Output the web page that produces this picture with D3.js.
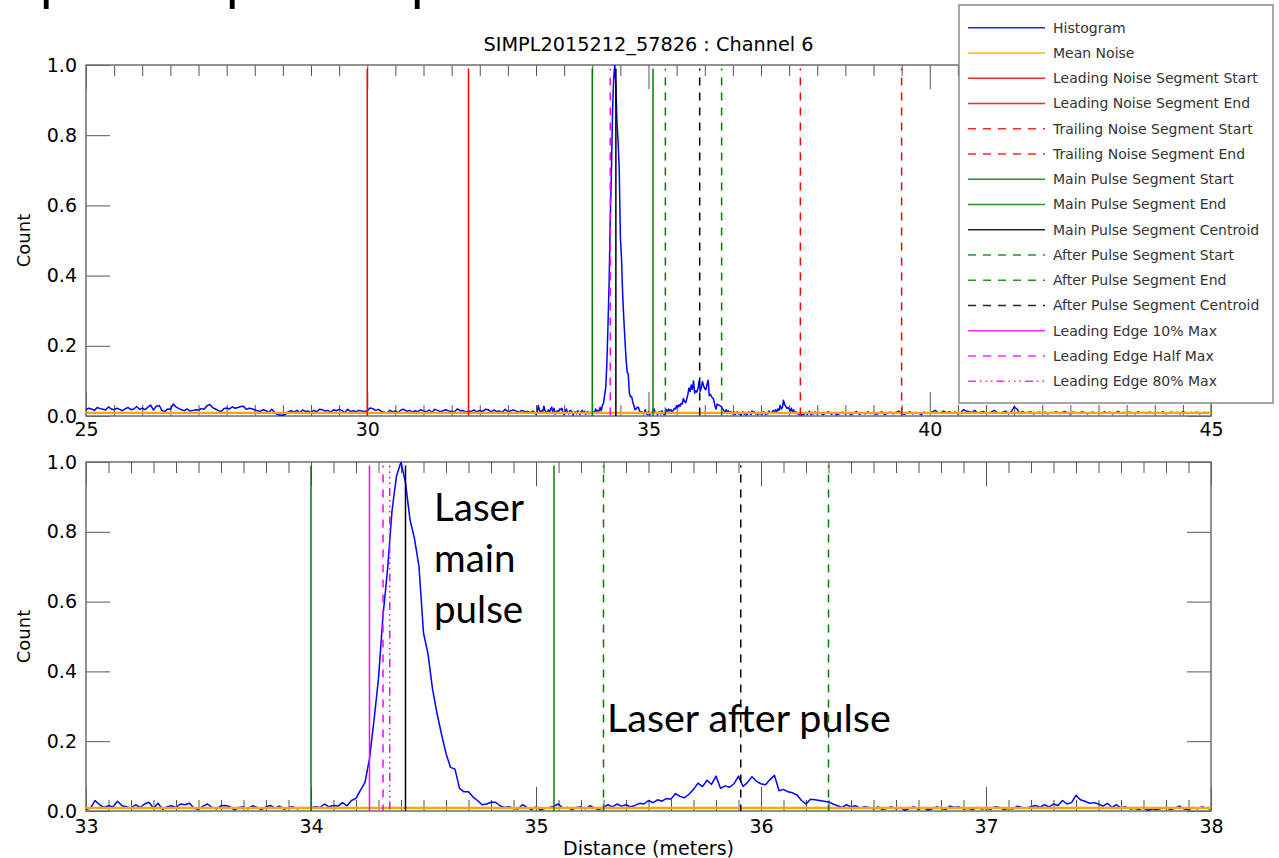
<!DOCTYPE html>
<html><head><meta charset="utf-8">
<script src="https://cdn.jsdelivr.net/npm/d3@7"></script>
<style>body{margin:0;background:#fff}svg{display:block}</style>
</head><body><svg id="c" width="1279" height="858"></svg>
<script>
// ---------- DATA ----------
const chartTitle = "SIMPL2015212_57826 : Channel 6";
const xAxisTitle = "Distance (meters)";
const yAxisTitle = "Count";

// histogram bins 25.00 .. 32.95 (0.05 m bins)
const leadStart = 25.0, leadStep = 0.05;
const leadNoise = [
.018,.022,.020,.016,.024,.021,.019,.017,.026,.020,.018,.022,.019,.015,.021,.024,.018,.020,.027,.019,
.022,.018,.025,.031,.017,.028,.030,.016,.012,.020,.019,.034,.026,.021,.018,.015,.020,.014,.016,.018,
.017,.021,.019,.029,.033,.024,.020,.016,.012,.021,.023,.020,.026,.022,.024,.027,.028,.019,.022,.021,
.017,.015,.013,.018,.015,.010,.019,.011,.004,.003,.002,.005,.013,.015,.011,.016,.009,.017,.013,.014,
.010,.016,.012,.019,.018,.014,.016,.010,.018,.015,.019,.016,.009,.019,.013,.015,.012,.016,.014,.013,
.015,.023,.021,.016,.019,.013,.011,.008,.016,.012,.014,.010,.017,.019,.013,.016,.011,.015,.012,.018,
.014,.012,.017,.010,.019,.016,.012,.015,.018,.014,.013,.012,.020,.015,.016,.011,.014,.013,.017,.012,
.016,.013,.019,.018,.012,.017,.013,.014,.010,.019,.012,.015,.017,.014,.011,.016,.012,.013,.010,.014];

// histogram bins 33.00 .. 37.98 (0.02 m bins)
const pulseStart = 33.0, pulseStep = 0.02;
const pulseRegion = [
.005,.008,.030,.018,.010,.015,.012,.028,.015,.012,.008,.018,.010,.020,.025,.008,.022,.005,.012,.015,
.010,.020,.018,.022,.008,.005,.014,.020,.010,.006,.015,.016,.012,.003,.010,.012,.006,.015,.010,.004,
.012,.016,.008,.014,.005,.010,.012,.006,.010,.008,
.010,.012,.010,.020,.012,.016,.014,.024,.015,.030,.036,.060,.082,.150,.260,.380,.560,.690,.860,.960,
1.000,.940,.835,.780,.700,.510,.450,.350,.280,.220,.165,.125,.120,.065,.055,.055,.040,.030,.018,.020,
.025,.025,.015,.010,.012,.008,.006,.018,.010,.004,
.012,.003,.008,.010,.014,.020,.008,.010,.004,.010,.012,.006,.015,.008,.004,.010,.018,.012,.020,.014,
.018,.012,.016,.022,.020,.030,.024,.032,.028,.036,.034,.050,.042,.038,.048,.062,.080,.070,.088,.076,
.100,.065,.072,.068,.078,.100,.070,.082,.098,.085,
.078,.075,.090,.102,.058,.062,.055,.052,.046,.030,.020,.034,.032,.030,.028,.026,.020,.015,.010,.018,
.012,.015,.008,.012,.010,.006,.012,.004,.008,.012,.006,.010,.002,.008,.012,.005,.010,.003,.006,.012,
.008,.004,.014,.010,.012,.006,.008,.004,.010,.006,
.008,.005,.012,.010,.004,.008,.006,.014,.010,.008,.012,.016,.010,.018,.012,.020,.016,.030,.020,.024,
.045,.032,.028,.022,.024,.020,.014,.022,.010,.018,.008,.012,.006,.008,.004,.010,.002,.006,.004,.008,
.010,.004,.008,.014,.006,.004,.010,.006,.012,.008];

// histogram bins 38.00 .. 44.95 (0.05 m bins)
const trailStart = 38.0, trailStep = 0.05;
const trailNoise = [
.006,.010,.004,.008,.012,.005,.009,.003,.007,.011,.006,.010,.004,.008,.013,.005,.009,.006,.012,.007,
.010,.005,.008,.012,.004,.009,.011,.006,.010,.014,.007,.005,.009,.012,.006,.010,.008,.004,.011,.007,
.009,.012,.016,.008,.010,.014,.009,.012,.008,.011,.006,.009,.018,.014,.012,.010,.016,.008,.011,.013,
.009,.007,.012,.016,.010,.008,.011,.014,.006,.012,.026,.020,.007,.013,.008,.010,.012,.006,.009,.011,
.008,.011,.006,.010,.009,.012,.007,.010,.013,.008,.006,.011,.009,.007,.012,.010,.006,.009,.011,.008,
.010,.007,.012,.008,.011,.006,.009,.013,.008,.010,.007,.011,.009,.006,.012,.008,.010,.007,.011,.009,
.007,.010,.008,.012,.006,.009,.011,.008,.010,.006,.012,.009,.007,.010,.008,.011,.006,.009,.010,.008];

const meanNoise = 0.009;

const legendLabels = ["Histogram","Mean Noise","Leading Noise Segment Start","Leading Noise Segment End",
  "Trailing Noise Segment Start","Trailing Noise Segment End","Main Pulse Segment Start","Main Pulse Segment End",
  "Main Pulse Segment Centroid","After Pulse Segment Start","After Pulse Segment End","After Pulse Segment Centroid",
  "Leading Edge 10% Max","Leading Edge Half Max","Leading Edge 80% Max"];

const markerLabels = legendLabels.slice(2);
const markerDistances = [30.0, 31.8, 37.7, 39.5, 34.0, 35.08, 34.42, 35.3, 36.3, 35.91, 34.26, 34.32, 34.35];

const topMarkers = ["Leading Noise Segment Start","Leading Noise Segment End","Trailing Noise Segment Start",
  "Trailing Noise Segment End","Main Pulse Segment Start","Main Pulse Segment End","Main Pulse Segment Centroid",
  "After Pulse Segment Start","After Pulse Segment End","After Pulse Segment Centroid","Leading Edge Half Max"];
const bottomMarkers = ["Main Pulse Segment Start","Main Pulse Segment End","Main Pulse Segment Centroid",
  "After Pulse Segment Start","After Pulse Segment End","After Pulse Segment Centroid",
  "Leading Edge 10% Max","Leading Edge Half Max","Leading Edge 80% Max"];

const yTicks = [0, 0.2, 0.4, 0.6, 0.8, 1.0];
const topXTicks = [25, 30, 35, 40, 45];
const bottomXTicks = [33, 34, 35, 36, 37, 38];

const annotMain = ["Laser", "main", "pulse"];
const annotAfter = "Laser after pulse";
const cutText = ["p", "p", "p"];

// ---------- STYLES ----------
const DASH = "8,7", DDD = "8,4,1.5,4,1.5,4,1.5,4";
const legendStyles = [
  {c:"#0000ff",d:null},{c:"#ffa500",d:null},{c:"#ff0000",d:null},{c:"#ff0000",d:null},
  {c:"#ff0000",d:DASH},{c:"#ff0000",d:DASH},{c:"#008000",d:null},{c:"#008000",d:null},
  {c:"#000000",d:null},{c:"#008000",d:DASH},{c:"#008000",d:DASH},{c:"#000000",d:DASH},
  {c:"#ff00ff",d:null},{c:"#ff00ff",d:DASH},{c:"#ff00ff",d:DDD}];
const FONT = "DejaVu Sans";

// ---------- BUILD ----------
const hist = [];
leadNoise.forEach((v,i)=>hist.push({d: leadStart + i*leadStep, v}));
pulseRegion.forEach((v,i)=>hist.push({d: pulseStart + i*pulseStep, v}));
trailNoise.forEach((v,i)=>hist.push({d: trailStart + i*trailStep, v}));

const svg = d3.select("#c");
const L = 86, R = 1211;

function panel(cfg, id) {
  const x = d3.scaleLinear().domain(cfg.domain).range([L, R]);
  const y = d3.scaleLinear().domain([0, 1]).range([cfg.bottom, cfg.top]);
  const g = svg.append("g");
  g.append("clipPath").attr("id", id).append("rect")
    .attr("x", L).attr("y", cfg.top).attr("width", R - L).attr("height", cfg.bottom - cfg.top);

  const minor = x.ticks(cfg.minorCount).filter(t => !cfg.major.some(m => Math.abs(m - t) < 1e-9));
  function styleAxis(sel){ sel.select(".domain").remove(); sel.selectAll("line").attr("stroke","#555").attr("stroke-width",1); }
  g.append("g").attr("transform", `translate(0,${cfg.bottom})`)
    .call(d3.axisBottom(x).tickValues(minor).tickSize(-11).tickFormat("")).call(styleAxis);
  g.append("g").attr("transform", `translate(0,${cfg.top})`)
    .call(d3.axisTop(x).tickValues(minor).tickSize(-11).tickFormat("")).call(styleAxis);
  g.append("g").attr("transform", `translate(0,${cfg.top})`)
    .call(d3.axisTop(x).tickValues(cfg.major).tickSize(-24).tickFormat("")).call(styleAxis);
  const bx = g.append("g").attr("transform", `translate(0,${cfg.bottom})`)
    .call(d3.axisBottom(x).tickValues(cfg.major).tickSize(-24).tickPadding(cfg.xPad).tickFormat(d3.format("d"))).call(styleAxis);
  bx.selectAll("text").attr("font-family", FONT).attr("font-size", 19).attr("fill", "#000");
  const ly = g.append("g").attr("transform", `translate(${L},0)`)
    .call(d3.axisLeft(y).tickValues(yTicks).tickSize(-24).tickPadding(9).tickFormat(d3.format(".1f"))).call(styleAxis);
  ly.selectAll("text").attr("font-family", FONT).attr("font-size", 19).attr("fill", "#000");
  g.append("g").attr("transform", `translate(${R},0)`)
    .call(d3.axisRight(y).tickValues(yTicks).tickSize(-24).tickFormat("")).call(styleAxis);

  g.append("rect").attr("x", L).attr("y", cfg.top).attr("width", R - L).attr("height", cfg.bottom - cfg.top)
    .attr("fill", "none").attr("stroke", "#6e6e6e").attr("stroke-width", 1.5);

  const pg = g.append("g").attr("clip-path", `url(#${id})`);
  const pts = hist.filter(p => p.d >= cfg.domain[0] - 1e-9 && p.d <= cfg.domain[1] + 1e-9);
  pg.append("path").datum(pts)
    .attr("d", d3.line().x(p => x(p.d)).y(p => y(p.v)))
    .attr("fill", "none").attr("stroke", "#0000ff").attr("stroke-width", 1.5).attr("stroke-linejoin", "round");
  pg.append("line").attr("x1", x(cfg.domain[0])).attr("x2", x(cfg.domain[1]))
    .attr("y1", y(meanNoise)).attr("y2", y(meanNoise)).attr("stroke", "#ffa500").attr("stroke-width", 2.2);

  cfg.markers.forEach(name => {
    const i = markerLabels.indexOf(name);
    const st = legendStyles[i + 2];
    pg.append("line").attr("x1", x(markerDistances[i])).attr("x2", x(markerDistances[i]))
      .attr("y1", y(0.99)).attr("y2", y(0))
      .attr("stroke", st.c).attr("stroke-width", 1.5)
      .attr("stroke-dasharray", st.d).attr("stroke-dashoffset", st.d ? 6 : null);
  });

  svg.append("text").attr("transform", `translate(23,${(cfg.top + cfg.bottom) / 2}) rotate(-90)`)
    .attr("text-anchor", "middle").attr("dominant-baseline", "central")
    .attr("font-family", FONT).attr("font-size", 18).text(yAxisTitle);
  return {x, y};
}

panel({domain:[25,45], top:65, bottom:416, major:topXTicks, minorCount:40, xPad:7, markers:topMarkers}, "clipTop");
panel({domain:[33,38], top:462, bottom:811, major:bottomXTicks, minorCount:50, xPad:9, markers:bottomMarkers}, "clipBot");

svg.append("text").attr("x", 648.5).attr("y", 51).attr("text-anchor", "middle")
  .attr("font-family", FONT).attr("font-size", 19.3).text(chartTitle);
svg.append("text").attr("x", 648.5).attr("y", 855).attr("text-anchor", "middle")
  .attr("font-family", FONT).attr("font-size", 19).text(xAxisTitle);

// annotations
annotMain.forEach((t, i) => svg.append("text").attr("x", 434).attr("y", 521 + i * 50.8)
  .attr("font-family", "Lato").attr("font-size", 38.5).attr("fill", "#000").text(t));
svg.append("text").attr("x", 607).attr("y", 732)
  .attr("font-family", "Lato").attr("font-size", 39.5).attr("fill", "#000").text(annotAfter);

// cut-off slide text at very top
const cutX = [40, 226, 411];
cutText.forEach((t, i) => svg.append("text").attr("x", cutX[i]).attr("y", 0)
  .attr("font-family", "Lato").attr("font-size", 54).attr("fill", "#000").text(t));

// legend
const lg = svg.append("g");
lg.append("rect").attr("x", 959).attr("y", 5).attr("width", 314).attr("height", 398)
  .attr("fill", "#fff").attr("stroke", "#888").attr("stroke-width", 1.5);
legendLabels.forEach((name, i) => {
  const yy = 27.7 + i * 25.25;
  const st = legendStyles[i];
  lg.append("line").attr("x1", 968).attr("x2", 1045).attr("y1", yy).attr("y2", yy)
    .attr("stroke", st.c).attr("stroke-width", 1.6).attr("stroke-dasharray", st.d).attr("stroke-opacity", 0.85);
  lg.append("text").attr("x", 1053).attr("y", yy).attr("dominant-baseline", "central")
    .attr("font-family", FONT).attr("font-size", 14).attr("fill", "#333").text(name);
});
</script></body></html>
